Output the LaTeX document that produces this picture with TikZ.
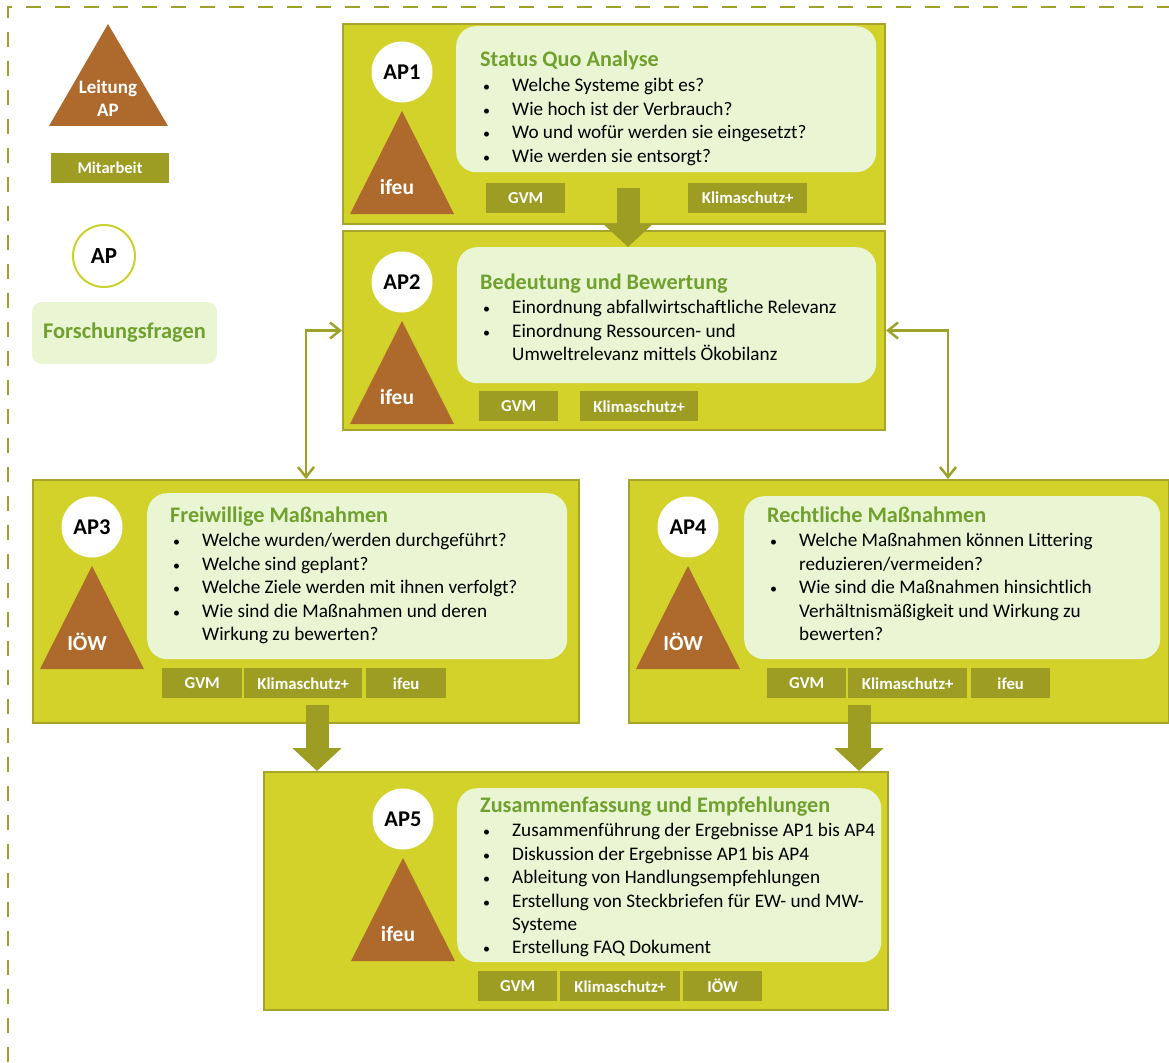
\documentclass[tikz,border=0pt]{standalone}
\usepackage{fontspec}
\setmainfont{Carlito}
\usepackage{tikz}
\usetikzlibrary{positioning,arrows.meta}

\definecolor{apfill}{HTML}{D3D22B}
\definecolor{apline}{HTML}{A6A42A}
\definecolor{qfill}{HTML}{EAF5D3}
\definecolor{qgreen}{HTML}{70A02E}
\definecolor{olive}{HTML}{9C9D22}
\definecolor{leadc}{HTML}{AE6A2D}
\definecolor{linkc}{HTML}{9CA328}
\definecolor{ringc}{HTML}{C9D22A}

\newcommand{\qhead}[1]{{\fontsize{22.2}{24}\selectfont\bfseries\color{qgreen}#1}}
\newcommand{\qb}{\makebox[32pt][l]{\hspace{3pt}{\fontsize{14}{14}\selectfont\textbullet}}}
\newcommand{\qc}{\hspace*{32pt}}

\begin{document}
\begin{tikzpicture}[x=1pt,y=-1pt,
  frame/.style={draw=linkc,line width=2.5pt,dash pattern=on 15pt off 14pt},
  apbox/.style={draw=apline,line width=2pt,fill=apfill,anchor=north west,inner sep=0pt},
  qbox/.style={fill=qfill,rounded corners=20pt,anchor=north west,inner sep=0pt},
  qtext/.style={anchor=base west,inner sep=0pt,font=\fontsize{19.2}{23.4}\selectfont},
  apnum/.style={circle,fill=white,minimum size=61pt,inner sep=0pt,font=\fontsize{22.5}{24}\selectfont\bfseries},
  leadtxt/.style={text=white,inner sep=0pt,font=\fontsize{21.5}{23}\selectfont\bfseries},
  partner/.style={fill=olive,text=white,minimum height=30pt,inner sep=0pt,anchor=north west,font=\fontsize{16.7}{18}\selectfont\bfseries},
  fat/.style={draw=olive,line width=23pt,-{Triangle[width=48pt,length=23pt]}},
  link/.style={draw=linkc,line width=2.5pt,{Straight Barb[length=10pt,width=16pt]}-{Straight Barb[length=10pt,width=16pt]}}
]
\useasboundingbox (0,0) rectangle (1169,1062);

\draw[frame] (8,1062) -- (8,7) -- (1169,7);

% legend
\fill[leadc] (49,126) -- (108,24) -- (168,126) -- cycle;
\node[leadtxt,align=center,font=\fontsize{19}{23}\selectfont\bfseries] (leg1) at (108,98) {Leitung\\AP};
\node[partner,anchor=center,minimum width=118pt,font=\fontsize{16.5}{18}\selectfont\bfseries] (leg2) at (110,168) {Mitarbeit};
\node[apnum,draw=ringc,line width=2pt,minimum size=62pt,font=\fontsize{23}{24}\selectfont\bfseries] (leg3) at (104,256) {AP};
\node[qbox,anchor=center,rounded corners=10pt,minimum width=185pt,minimum height=62pt,text=qgreen,font=\fontsize{22.4}{24}\selectfont\bfseries] (leg4) at (124.5,333) {Forschungsfragen};

% work packages
\node[apbox,minimum width=542pt,minimum height=200pt] (ap1) at (342,23) {};
\node[apbox,minimum width=542pt,minimum height=199pt] (ap2) at (342,230) {};
\node[apbox,minimum width=546pt,minimum height=243pt] (ap3) at (32,479) {};
\node[apbox,minimum width=540pt,minimum height=243pt] (ap4) at (628,479) {};
\node[apbox,minimum width=624pt,minimum height=238pt] (ap5) at (263,771) {};

\node[qbox,minimum width=420pt,minimum height=146pt] (q1) at (456,26) {};
\node[qbox,minimum width=419pt,minimum height=136pt] (q2) at (457,247) {};
\node[qbox,minimum width=420pt,minimum height=166pt] (q3) at (147,493) {};
\node[qbox,minimum width=416pt,minimum height=163pt] (q4) at (744,496) {};
\node[qbox,minimum width=424pt,minimum height=174pt] (q5) at (457,788) {};

\node[qtext] (t1) at (480,67) {\begin{tabular}[t]{@{}l@{}}
  \qhead{Status Quo Analyse}\\[1.5pt]
  \qb Welche Systeme gibt es?\\
  \qb Wie hoch ist der Verbrauch?\\
  \qb Wo und wofür werden sie eingesetzt?\\
  \qb Wie werden sie entsorgt?
\end{tabular}};
\node[qtext] (t2) at (480,289) {\begin{tabular}[t]{@{}l@{}}
  \qhead{Bedeutung und Bewertung}\\[1.5pt]
  \qb Einordnung abfallwirtschaftliche Relevanz\\
  \qb Einordnung Ressourcen- und\\
  \qc Umweltrelevanz mittels Ökobilanz
\end{tabular}};
\node[qtext] (t3) at (170,522) {\begin{tabular}[t]{@{}l@{}}
  \qhead{Freiwillige Maßnahmen}\\[1.5pt]
  \qb Welche wurden/werden durchgeführt?\\
  \qb Welche sind geplant?\\
  \qb Welche Ziele werden mit ihnen verfolgt?\\
  \qb Wie sind die Maßnahmen und deren\\
  \qc Wirkung zu bewerten?
\end{tabular}};
\node[qtext] (t4) at (767,522) {\begin{tabular}[t]{@{}l@{}}
  \qhead{Rechtliche Maßnahmen}\\[1.5pt]
  \qb Welche Maßnahmen können Littering\\
  \qc reduzieren/vermeiden?\\
  \qb Wie sind die Maßnahmen hinsichtlich\\
  \qc Verhältnismäßigkeit und Wirkung zu\\
  \qc bewerten?
\end{tabular}};
\node[qtext] (t5) at (480,812) {\begin{tabular}[t]{@{}l@{}}
  \qhead{Zusammenfassung und Empfehlungen}\\[1.5pt]
  \qb Zusammenführung der Ergebnisse AP1 bis AP4\\
  \qb Diskussion der Ergebnisse AP1 bis AP4\\
  \qb Ableitung von Handlungsempfehlungen\\
  \qb Erstellung von Steckbriefen für EW- und MW-\\
  \qc Systeme\\
  \qb Erstellung FAQ Dokument
\end{tabular}};

\foreach \n/\x/\y/\who in {1/402/72/ifeu, 2/402/282/ifeu, 3/92/527/IÖW, 4/688/527/IÖW, 5/403/819/ifeu} {
  \fill[leadc] (\x-52,\y+142) -- (\x,\y+39) -- (\x+52,\y+142) -- cycle;
  \node[leadtxt] (lead\n) at (\x-5,\y+115) {\who};
  \node[apnum] (num\n) at (\x,\y) {AP\n};
}

\foreach \n/\x/\y/\w/\who in {p11/486/183/79/GVM, p12/688/183/119/Klimaschutz+,
    p21/479/391/79/GVM, p22/580/391/118/Klimaschutz+,
    p31/162/668/80/GVM, p32/244/668/118/Klimaschutz+, p33/366/668/80/ifeu,
    p41/767/668/79/GVM, p42/848/668/119/Klimaschutz+, p43/971/668/79/ifeu,
    p51/478/971/79/GVM, p52/560/971/120/Klimaschutz+, p53/683/971/79/IÖW} {
  \node[partner,minimum width=\w*1pt] (\n) at (\x,\y) {\who};
}

% flow between packages
\coordinate (f1) at (628,188);
\coordinate (f3) at (317,705);
\coordinate (f4) at (859,705);
\draw[fat] (f1) -- (f1 |- q2.north);
\draw[fat] (f3) -- (f3 |- ap5.north);
\draw[fat] (f4) -- (f4 |- ap5.north);

\draw[link] (ap2.west) -| (ap3.north);
\draw[link] (ap2.east) -| ([xshift=320pt]ap4.north west);
\end{tikzpicture}
\end{document}
